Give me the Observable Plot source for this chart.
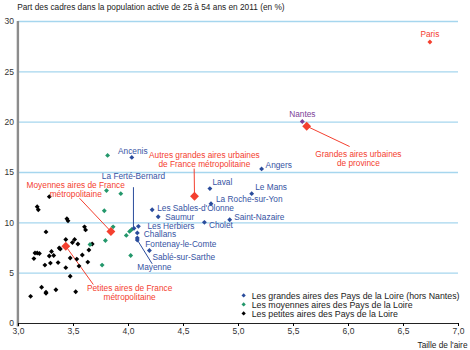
<!DOCTYPE html>
<html><head><meta charset="utf-8">
<script src="https://cdn.jsdelivr.net/npm/d3@7"></script>
<script src="https://cdn.jsdelivr.net/npm/@observablehq/plot@0.6"></script>
<style>
body{margin:0;background:#fff;font-family:"Liberation Sans",Arial,sans-serif;}
#wrap{position:relative;width:470px;height:350px;}
#legend{position:absolute;left:240px;top:291.5px;font-size:8.8px;color:#222;}
#legend .row{height:9px;line-height:9px;white-space:nowrap;position:relative;padding-left:11.7px;}
#legend .sw{position:absolute;left:2.2px;top:2.8px;width:3.3px;height:3.3px;transform:rotate(45deg);}
</style></head><body><div id="wrap"></div>
<script>
const xTicks = [3, 3.5, 4, 4.5, 5, 5.5, 6, 6.5, 7];
const yTicks = [0, 5, 10, 15, 20, 25, 30];

// Petites aires des Pays de la Loire (black)
const petitesX = [3.28,3.17,3.18,3.44,3.45,3.60,3.61,3.25,3.43,3.51,3.49,3.54,3.67,3.37,3.38,3.30,3.64,3.15,3.17,3.19,3.28,3.32,3.58,3.14,3.47,3.53,3.29,3.36,3.63,3.24,3.55,3.43,3.47,3.21,3.25,3.25,3.34,3.52,3.11];
const petitesY = [12.6,11.6,11.3,10.4,10.2,9.6,9.3,9.1,8.35,8.35,8.05,7.9,7.9,7.5,7.4,7.15,7.3,7.0,7.0,6.95,6.7,6.75,6.8,6.45,6.5,6.4,6.0,6.05,6.1,5.8,5.7,5.55,4.7,3.6,3.1,3.0,3.35,3.15,2.7];

// Moyennes aires des Pays de la Loire (green)
const moyennesX = [3.81,3.80,3.93,3.78,3.86,4.03,4.01,3.98,3.79,3.65,4.02,3.76];
const moyennesY = [16.7,13.2,12.9,11.2,9.6,9.35,9.15,8.75,8.25,7.85,6.75,5.8];

// Grandes aires des Pays de la Loire hors Nantes (blue)
const grandesNames = ["Ancenis","Angers","Le Mans","Laval","La Roche-sur-Yon","Les Sables-d'Olonne","Saumur","Saint-Nazaire","Cholet","Les Herbiers","La Ferté-Bernard","Challans","Fontenay-le-Comte","Mayenne","Sablé-sur-Sarthe"];
const grandesX = [4.03,5.21,5.12,4.74,4.75,4.215,4.27,4.92,4.69,4.09,4.05,4.08,4.08,4.08,4.19];
const grandesY = [16.5,15.36,12.9,13.4,11.9,11.3,10.6,10.3,10.05,9.65,9.45,9.0,8.5,8.3,7.25];

// Nantes and Paris
const nantes = {name: "Nantes", x: 5.58, y: 20.06};
const paris = {name: "Paris", x: 6.74, y: 27.97};

// Reference aggregates (red diamonds)
const aggNames = ["Grandes aires urbaines\nde province","Autres grandes aires urbaines\nde France métropolitaine","Moyennes aires de France\nmétropolitaine","Petites aires de France\nmétropolitaine"];
const aggX = [5.62, 4.60, 3.84, 3.43];
const aggY = [19.6, 12.64, 9.14, 7.68];
// annotation label anchor (data space) for each aggregate
const aggLabelX = [6.09, 4.69, 3.52, 4.01];
const aggLabelY = [16.39, 16.29, 13.31, 3.08];
const aggLeadX = [6.01, 4.597, 3.555, 3.68];
const aggLeadY = [17.58, 15.39, 12.44, 3.87];

// leader lines for some small-area labels
const ferteLabel = {x: 4.045, y: 14.63, leadY: 13.54};
const mayenneLead = {x: 4.215, y: 5.93};

const fmt = d => d3.format(".1f")(d).replace(".", ",");

const petites = petitesX.map((x, i) => ({x, y: petitesY[i]}));
const moyennes = moyennesX.map((x, i) => ({x, y: moyennesY[i]}));
const grandes = grandesNames.map((name, i) => ({name, x: grandesX[i], y: grandesY[i]}));
const aggs = aggNames.map((name, i) => ({name, x: aggX[i], y: aggY[i], lx: aggLabelX[i], ly: aggLabelY[i], ex: aggLeadX[i], ey: aggLeadY[i]}));

const BLUE = "#2a4c9c", BLUET = "#3653a3", GREEN = "#23976b", RED = "#f4402f", PURPLE = "#7d3f98";
const FONT = "Liberation Sans, Arial, sans-serif";
const LFS = 8.3;

// label offsets [dx, dy, anchor]
const off = {
  "Ancenis": [1, -6, "middle"],
  "Angers": [4, -3.5, "start"],
  "Le Mans": [3.5, -6.5, "start"],
  "Laval": [2.5, -6, "start"],
  "La Roche-sur-Yon": [5, -4, "start"],
  "Les Sables-d'Olonne": [5, -1.6, "start"],
  "Saumur": [7, 0.4, "start"],
  "Saint-Nazaire": [4.5, -2.3, "start"],
  "Cholet": [4.5, 3.3, "start"],
  "Les Herbiers": [9, -0.2, "start"],
  "Challans": [6.5, 1.9, "start"],
  "Fontenay-le-Comte": [8, 6.0, "start"],
  "Sablé-sur-Sarthe": [3, 6.4, "start"],
  "Mayenne": [0, 27, "start"]
};

const blueLabels = grandes.filter(d => off[d.name]).map(d => Plot.text([d], {
  x: "x", y: "y", text: "name", dx: off[d.name][0], dy: off[d.name][1],
  textAnchor: off[d.name][2], fill: BLUET, fontSize: LFS, fontFamily: FONT
}));

const plot = Plot.plot({
  width: 470, height: 350,
  marginLeft: 18, marginRight: 12, marginTop: 21, marginBottom: 27,
  style: {fontFamily: FONT, background: "#fff"},
  x: {domain: [3, 7]},
  y: {domain: [0, 30]},
  marks: [
    Plot.gridY(yTicks.filter(d => d > 0), {stroke: "#a6d6ee", strokeOpacity: 1, strokeWidth: 1.3}),
    Plot.ruleY([0], {stroke: "#222", strokeWidth: 1}),
    Plot.ruleX([3], {y1: -0.35, y2: 30, stroke: "#8c8c8c", strokeWidth: 2.4, dx: -0.6}),
    Plot.axisY({ticks: yTicks, tickSize: 0, tickPadding: 4.5, fontSize: 8.5, label: null, fill: "#333"}),
    Plot.axisX({ticks: xTicks, tickFormat: fmt, tickSize: 3, tickPadding: 1.5, fontSize: 8.5, label: null, fill: "#333"}),
    // leader lines
    Plot.link(aggs, {x1: "x", y1: "y", x2: "ex", y2: "ey", stroke: RED, strokeWidth: 1}),
    Plot.link([ferteLabel], {x1: "x", y1: "leadY", x2: "x", y2: d => grandesY[grandesNames.indexOf("La Ferté-Bernard")], stroke: BLUE, strokeWidth: 1}),
    Plot.link([mayenneLead], {x1: () => grandesX[grandesNames.indexOf("Mayenne")], y1: () => grandesY[grandesNames.indexOf("Mayenne")], x2: "x", y2: "y", stroke: BLUE, strokeWidth: 1}),
    // points
    Plot.dot(petites, {x: "x", y: "y", symbol: "diamond2", r: 2.2, fill: "#000", stroke: "none"}),
    Plot.dot(moyennes, {x: "x", y: "y", symbol: "diamond2", r: 2.2, fill: GREEN, stroke: "none"}),
    Plot.dot(grandes, {x: "x", y: "y", symbol: "diamond2", r: 2.2, fill: BLUE, stroke: "none"}),
    Plot.dot([nantes], {x: "x", y: "y", symbol: "diamond2", r: 2.2, fill: PURPLE, stroke: "none"}),
    Plot.dot([paris], {x: "x", y: "y", symbol: "diamond2", r: 2.2, fill: RED, stroke: "none"}),
    Plot.dot(aggs, {x: "x", y: "y", symbol: "diamond2", r: 4, fill: RED, stroke: "none"}),
    // labels
    Plot.text([paris], {x: "x", y: "y", text: "name", dy: -8, fill: RED, fontSize: LFS, fontFamily: FONT}),
    Plot.text([nantes], {x: "x", y: "y", text: "name", dy: -7.5, fill: PURPLE, fontSize: LFS, fontFamily: FONT}),
    Plot.text(aggs, {x: "lx", y: "ly", text: "name", fill: RED, fontSize: LFS, lineHeight: 1.08, fontFamily: FONT}),
    Plot.text([ferteLabel], {x: "x", y: "y", text: () => "La Ferté-Bernard", fill: BLUET, fontSize: LFS, fontFamily: FONT}),
    ...blueLabels,
    Plot.text(["Part des cadres dans la population active de 25 à 54 ans en 2011 (en %)"], {frameAnchor: "top-left", dx: -1.3, dy: -17, fontSize: 8.3, fill: "#222", fontFamily: FONT}),
    Plot.text(["Taille de l'aire"], {frameAnchor: "bottom-right", dx: 9, dy: 24, fontSize: 8.3, fill: "#222", fontFamily: FONT})
  ]
});
const wrap = document.getElementById("wrap");
wrap.appendChild(plot);

const legendItems = ["Les grandes aires des Pays de la Loire (hors Nantes)", "Les moyennes aires des Pays de la Loire", "Les petites aires des Pays de la Loire"];
const legendColors = [BLUE, GREEN, "#000"];
const leg = document.createElement("div");
leg.id = "legend";
legendItems.forEach((t, i) => {
  const r = document.createElement("div");
  r.className = "row";
  const s = document.createElement("span");
  s.className = "sw";
  s.style.background = legendColors[i];
  r.appendChild(s);
  r.appendChild(document.createTextNode(t));
  leg.appendChild(r);
});
wrap.appendChild(leg);
</script></body></html>
